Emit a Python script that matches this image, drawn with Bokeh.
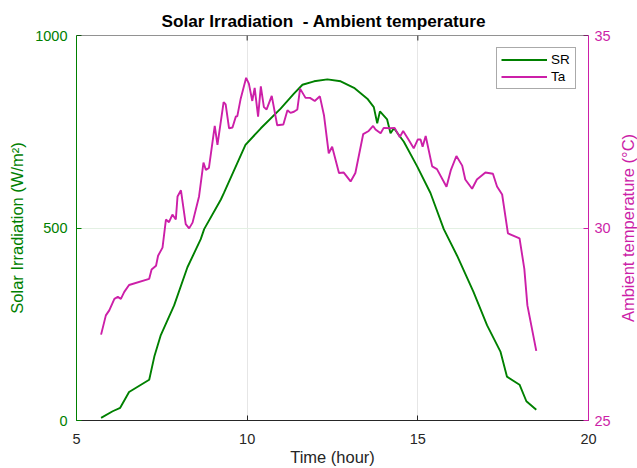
from bokeh.plotting import figure
from bokeh.layouts import row
from bokeh.models import LinearAxis, Range1d, FixedTicker, Legend, LegendItem, Span, Title
from bokeh.embed import file_html
from bokeh.resources import INLINE

# ---- data ----
sr_time = [5.72, 6.06, 6.28, 6.54, 7.13, 7.28, 7.47, 7.86, 8.25, 8.64, 8.74, 9.23, 9.32, 9.95,
           10.40, 10.98, 11.37, 11.62, 11.96, 12.35, 12.74, 13.13, 13.52, 13.71, 13.81, 13.89,
           14.10, 14.20, 14.30, 14.59, 14.98, 15.37, 15.76, 16.15, 16.63, 17.03, 17.42, 17.61,
           17.98, 18.18, 18.47]
sr_values = [7, 24, 33, 74, 106, 166, 222, 299, 398, 471, 497, 574, 591, 716,
             759, 810, 849, 872, 881, 886, 881, 864, 836, 814, 772, 803,
             782, 746, 759, 724, 660, 591, 497, 428, 334, 247, 179, 114,
             93, 50, 28]

ta_time = [5.72, 5.86, 5.96, 6.11, 6.21, 6.30, 6.40, 6.54, 7.13, 7.20, 7.33, 7.39, 7.52, 7.62,
           7.71, 7.81, 7.91, 7.96, 8.06, 8.20, 8.30, 8.40, 8.59, 8.72, 8.79, 8.88, 9.05, 9.13,
           9.31, 9.37, 9.47, 9.57, 9.67, 9.71, 9.81, 9.97, 10.05, 10.15, 10.22, 10.32, 10.40,
           10.49, 10.57, 10.72, 10.88, 11.06, 11.18, 11.27, 11.37, 11.47, 11.55, 11.71, 11.84,
           11.98, 12.13, 12.25, 12.39, 12.49, 12.69, 12.83, 13.03, 13.17, 13.40, 13.56, 13.69,
           13.76, 13.91, 14.00, 14.20, 14.32, 14.47, 14.57, 14.73, 14.88, 15.00, 15.08, 15.14,
           15.23, 15.42, 15.56, 15.84, 15.97, 16.13, 16.30, 16.39, 16.59, 16.73, 16.98, 17.20,
           17.32, 17.47, 17.64, 17.98, 18.12, 18.21, 18.47]
ta_values = [27.23, 27.73, 27.86, 28.16, 28.21, 28.16, 28.34, 28.52, 28.68, 28.92, 29.02, 29.28,
             29.49, 30.22, 30.15, 30.35, 30.22, 30.82, 30.98, 30.10, 29.99, 30.14, 30.82, 31.70,
             31.51, 31.56, 32.65, 32.16, 33.27, 33.21, 32.59, 32.61, 32.90, 32.90, 33.36, 33.90,
             33.75, 33.30, 33.64, 32.89, 33.68, 33.14, 33.08, 33.43, 32.67, 32.69, 33.06, 32.99,
             33.02, 33.08, 33.62, 33.38, 33.38, 33.30, 33.42, 32.93, 31.94, 32.11, 31.43, 31.44,
             31.21, 31.43, 32.44, 32.52, 32.65, 32.56, 32.46, 32.60, 32.59, 32.60, 32.36, 32.52,
             32.29, 32.07, 32.30, 32.30, 32.11, 32.39, 31.60, 31.53, 31.07, 31.51, 31.87, 31.62,
             31.26, 31.02, 31.26, 31.44, 31.41, 31.08, 30.87, 29.86, 29.73, 28.94, 27.99, 26.81]

x_ticks = [5, 10, 15, 20]
sr_ticks = [0, 500, 1000]
ta_ticks = [25, 30, 35]

GREEN = "#008000"
MAGENTA = "#CC1FA8"
DARK = "#262626"
FONT = "Liberation Sans"

X0, X1 = 5, 20
Y0, Y1 = 0, 1000
T0, T1 = 25, 35

p = figure(width=616, height=468, output_backend="svg", toolbar_location=None,
           x_range=Range1d(X0, X1), y_range=Range1d(Y0, Y1),
           min_border_left=76, min_border_right=28, min_border_top=35, min_border_bottom=45,
           title="Solar Irradiation\u00a0 - Ambient temperature")
p.extra_y_ranges = {"temp": Range1d(T0, T1)}

p.title.align = "left"
p.title.offset = 85
p.title.text_font = FONT
p.title.text_font_size = "17.2px"
p.title.text_font_style = "bold"
p.title.text_color = "#000000"
p.title.standoff = 10
p.outline_line_color = None
p.background_fill_color = "white"
p.border_fill_color = "white"

# grid
p.xgrid.ticker = FixedTicker(ticks=x_ticks)
p.xgrid.grid_line_color = "#e6e6e6"
p.xgrid.grid_line_width = 1
p.ygrid.ticker = FixedTicker(ticks=sr_ticks)
p.ygrid.grid_line_color = "#e3f0e3"
p.ygrid.grid_line_width = 1

def style_axis(ax, color):
    ax.axis_line_color = color
    ax.axis_line_width = 1
    ax.major_tick_line_color = color
    ax.major_tick_in = 5
    ax.major_tick_out = 0
    ax.minor_tick_line_color = None
    ax.major_label_text_color = color
    ax.major_label_text_font = FONT
    ax.major_label_text_font_size = "14.5px"
    ax.axis_label_text_color = color
    ax.axis_label_text_font = FONT
    ax.axis_label_text_font_size = "16.5px"
    ax.axis_label_text_font_style = "normal"

# bottom axis
xa = p.xaxis[0]
xa.ticker = FixedTicker(ticks=x_ticks)
style_axis(xa, DARK)
xa.axis_label = "Time (hour)"
xa.major_label_standoff = 13
xa.axis_label_standoff = 1

# left axis
ya = p.yaxis[0]
ya.ticker = FixedTicker(ticks=sr_ticks)
style_axis(ya, GREEN)
ya.axis_label = "Solar Irradiation (W/m²)"
ya.major_label_standoff = 9
ya.axis_label_standoff = 6

# right axis (its title sits in a thin neighbour so it reads bottom-to-top)
ra = LinearAxis(y_range_name="temp", ticker=FixedTicker(ticks=ta_ticks))
style_axis(ra, MAGENTA)
ra.major_label_standoff = 6
p.add_layout(ra, "right")

# top edge of the box with inward ticks
p.add_layout(Span(location=Y1, dimension="width", line_color=DARK, line_width=1))
p.segment(x0=x_ticks[1:-1], y0=[Y1] * 2, x1=x_ticks[1:-1], y1=[Y1 - 13] * 2,
          line_color=DARK, line_width=1)

r_sr = p.line(sr_time, sr_values, line_color=GREEN, line_width=1.9)
r_ta = p.line(ta_time, ta_values, line_color=MAGENTA, line_width=1.9, y_range_name="temp")

legend = Legend(items=[LegendItem(label="SR", renderers=[r_sr]),
                       LegendItem(label="Ta", renderers=[r_ta])],
                location="top_right")
legend.margin = 12
legend.padding = 4
legend.spacing = 2
legend.glyph_width = 46
legend.glyph_height = 15
legend.label_height = 15
legend.label_standoff = 4
legend.label_text_font = FONT
legend.label_text_font_size = "13.5px"
legend.label_text_color = "#000000"
legend.border_line_color = "#555555"
legend.border_line_width = 1
legend.background_fill_color = "white"
legend.background_fill_alpha = 1
p.add_layout(legend, "center")

# thin strip carrying the right-hand axis title
q = figure(width=21, height=468, output_backend="svg", toolbar_location=None,
           x_range=Range1d(0, 1), y_range=Range1d(T0, T1),
           x_axis_location=None, y_axis_location=None,
           min_border_left=0, min_border_right=0, min_border_top=35, min_border_bottom=45)
q.grid.visible = False
q.outline_line_color = None
q.background_fill_color = "white"
q.border_fill_color = "white"
q.add_layout(Title(text="Ambient temperature (°C)", align="center", text_font=FONT,
                   text_font_size="16.5px", text_font_style="normal",
                   text_color=MAGENTA, standoff=0, offset=0), "left")
q.scatter(x=[0.5], y=[(T0 + T1) / 2], size=0, alpha=0)

open("out.html", "w").write(file_html(row(p, q), INLINE))
